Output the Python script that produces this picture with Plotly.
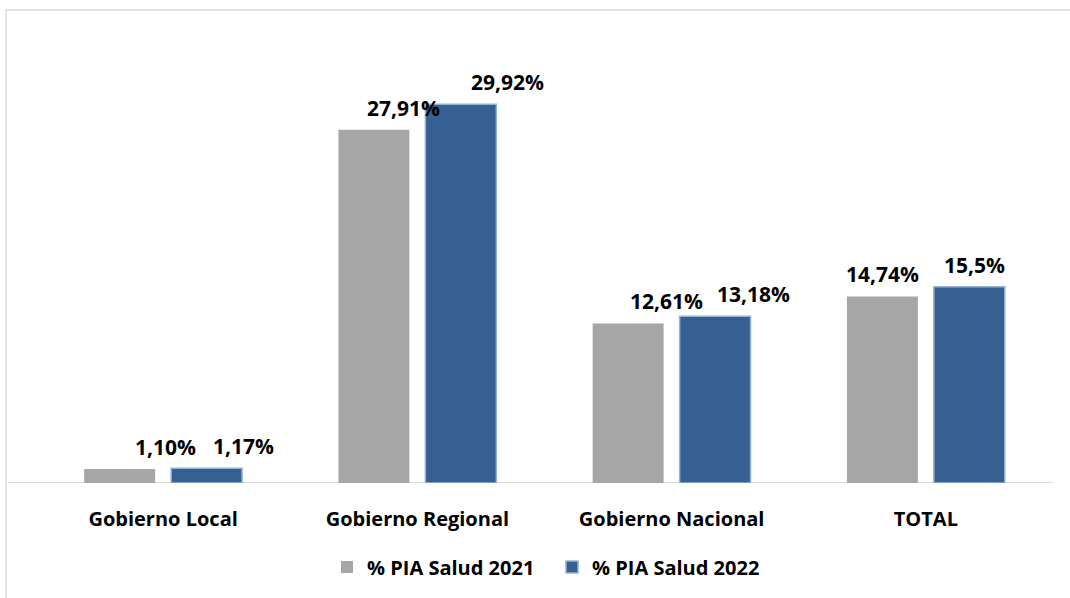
import plotly.graph_objects as go

categories = ["Gobierno Local", "Gobierno Regional", "Gobierno Nacional", "TOTAL"]
series_names = ["% PIA Salud 2021", "% PIA Salud 2022"]
values_2021 = [1.10, 27.91, 12.61, 14.74]
values_2022 = [1.17, 29.92, 13.18, 15.5]
labels_2021 = ["1,10%", "27,91%", "12,61%", "14,74%"]
labels_2022 = ["1,17%", "29,92%", "13,18%", "15,5%"]

# label horizontal offsets (px, relative to category centre) as in the source
shift_2021 = [2, -14, -5, -43]
shift_2022 = [80, 90, 82, 49]

FONT = "Open Sans"
GRAY = "#a6a6a6"
BLUE = "#376092"

fig = go.Figure()
fig.add_trace(go.Bar(x=categories, y=values_2021, name=series_names[0],
                     marker=dict(color=GRAY, line=dict(width=0))))
fig.add_trace(go.Bar(x=categories, y=values_2022, name=series_names[1],
                     marker=dict(color=BLUE, line=dict(color="#95b3d7", width=1.5))))

for cat, v, t, s in zip(categories, values_2021, labels_2021, shift_2021):
    fig.add_annotation(x=cat, y=v, text=t, showarrow=False, xshift=s, yshift=22,
                       font=dict(family=FONT, size=21, color="#000000", weight="bold"))
for cat, v, t, s in zip(categories, values_2022, labels_2022, shift_2022):
    fig.add_annotation(x=cat, y=v, text=t, showarrow=False, xshift=s, yshift=22,
                       font=dict(family=FONT, size=21, color="#000000", weight="bold"))

L, R, T, B = 36, 17, 40, 115
W, H = 1070, 598
pw = W - L - R
ph = H - T - B

# baseline axis line
fig.add_shape(type="line", xref="paper", yref="y", x0=(8 - L) / pw, x1=1.0, y0=0, y1=0,
              line=dict(color="#d9d9d9", width=2), layer="below")
# outer frame
fig.add_shape(type="rect", xref="paper", yref="paper",
              x0=(6 - L) / pw, x1=(1100 - L) / pw,
              y0=-(640 - (H - B)) / ph, y1=((H - B) - 10) / ph,
              line=dict(color="#d9d9d9", width=1.5), fillcolor="rgba(0,0,0,0)")

fig.update_layout(
    width=W, height=H,
    margin=dict(l=L, r=R, t=T, b=B),
    paper_bgcolor="white", plot_bgcolor="white",
    barmode="group", bargap=0.316, bargroupgap=0.184,
    showlegend=True,
    legend=dict(orientation="h", x=(552 - L) / pw, xanchor="center", y=-(567 - (H - B)) / ph,
                yanchor="middle", font=dict(family=FONT, size=20, color="#000000", weight="bold"),
                itemwidth=30, entrywidth=180, traceorder="normal"),
    xaxis=dict(showline=False, showgrid=False, zeroline=False,
               tickfont=dict(family=FONT, size=20, color="#000000", weight="bold"),
               ticks="", ticklabelstandoff=22),
    yaxis=dict(range=[0, 35], visible=False, showgrid=False, zeroline=False),
)

fig.write_html("out.html", config={"displayModeBar": False},
               post_script="document.body.style.margin='0px';")
